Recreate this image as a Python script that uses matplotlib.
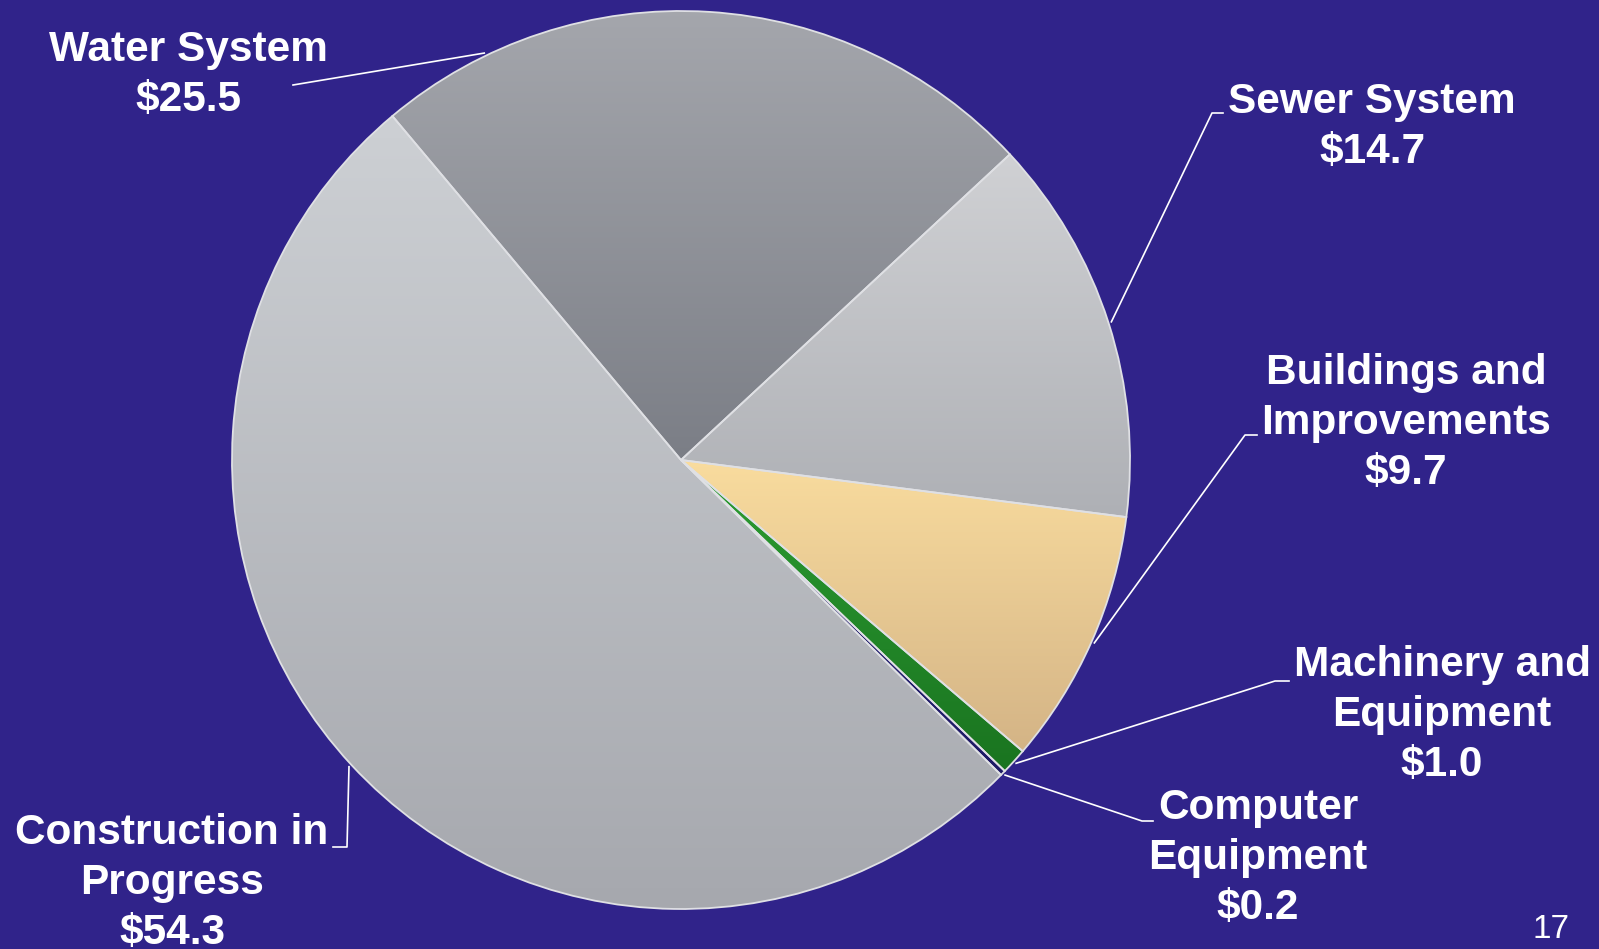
import numpy as np
import matplotlib
matplotlib.use('Agg')
import matplotlib.pyplot as plt
from matplotlib.colors import LinearSegmentedColormap

# data
labels = ['Water System', 'Sewer System', 'Buildings and\nImprovements',
          'Machinery and\nEquipment', 'Computer\nEquipment', 'Construction in\nProgress']
values = [25.5, 14.7, 9.7, 1.0, 0.2, 54.3]

# gradient colours per slice (top, bottom)
top_colors = ['#a5a7ad', '#d0d1d4', '#f9dc9e', '#2c9d32', '#2a2478', '#cdd0d4']
bot_colors = ['#7b7e86', '#aeb0b5', '#d4b486', '#1a7420', '#1e1a66', '#a6a8ae']

# layout in pixels (measured from top-left); text y = baseline of the last line
W, H = 1599, 949
bg = '#30238a'
cx, cy, r = 681, 460, 449
anchor_frac = [0.837, 0.5, 0.5, 0.5, 0.5, 0.5]  # where the leader touches the wedge
text_pos = [(188, 111), (1372, 163), (1406, 484), (1442, 776), (1258, 919), (172, 944)]
elbows = [[(293, 85)],
          [(1212, 113), (1223, 113)],
          [(1245, 435), (1257, 435)],
          [(1275, 681), (1289, 681)],
          [(1142, 821), (1153, 821)],
          [(347, 847), (333, 847)]]

fig = plt.figure(figsize=(W / 100, H / 100), dpi=100, facecolor=bg)
ax = fig.add_axes([0, 0, 1, 1])
ax.set_facecolor(bg)

wedges, _ = ax.pie(values, startangle=130, counterclock=False,
                   center=(cx, H - cy), radius=r, colors=top_colors, frame=True,
                   wedgeprops=dict(edgecolor='#dfe0e4', linewidth=1.3))

# vertical gradient fill, clipped to each wedge
ramp = np.linspace(0, 1, 256).reshape(-1, 1)
for w, c0, c1 in zip(wedges, top_colors, bot_colors):
    v = w.get_path().vertices
    cmap = LinearSegmentedColormap.from_list('g', [c1, c0])
    im = ax.imshow(ramp, cmap=cmap, origin='lower', aspect='auto', zorder=1.5,
                   extent=(cx - r, cx + r, v[:, 1].min(), v[:, 1].max()))
    im.set_clip_path(w)
    w.set_facecolor('none')
    w.set_zorder(2)

font = ['Liberation Sans', 'DejaVu Sans']
for i, w in enumerate(wedges):
    ang = np.deg2rad(w.theta1 + anchor_frac[i] * (w.theta2 - w.theta1))
    px = cx + (r + 3) * np.cos(ang)
    py = (H - cy) + (r + 3) * np.sin(ang)
    xs = [px] + [p[0] for p in elbows[i]]
    ys = [py] + [H - p[1] for p in elbows[i]]
    ax.plot(xs, ys, color='white', lw=1.2, zorder=3)

    tx, ty = text_pos[i]
    ax.text(tx, H - ty, labels[i] + '\n\\$%.1f' % values[i], color='white',
            fontsize=30.5, fontweight='bold', family=font, ha='center',
            va='baseline', multialignment='center', linespacing=1.33, zorder=4)

ax.text(1551, H - 938, '17', color='white', fontsize=24, family=font,
        ha='center', va='baseline')

ax.set_xlim(0, W)
ax.set_ylim(0, H)
ax.axis('off')
fig.savefig('out.png', dpi=100, facecolor=bg)
